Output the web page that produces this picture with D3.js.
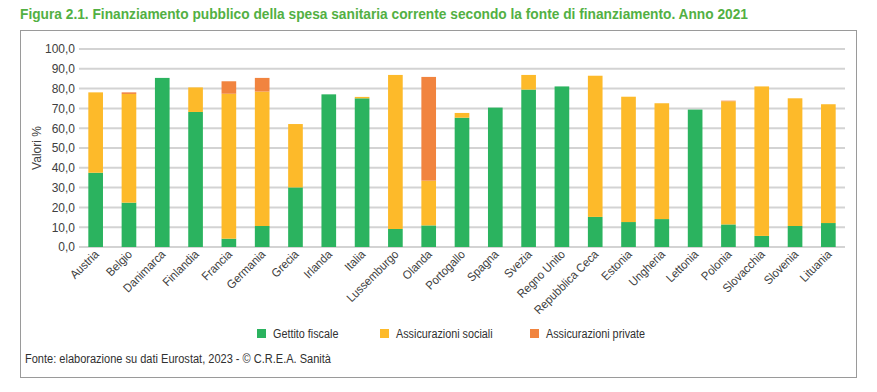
<!DOCTYPE html>
<html><head><meta charset="utf-8">
<script src="https://cdn.jsdelivr.net/npm/d3@7"></script>
<style>body{margin:0;background:#fff}svg{display:block}</style>
</head><body>
<svg id="c" width="877" height="392"></svg>
<script>
const categories = ["Austria","Belgio","Danimarca","Finlandia","Francia","Germania","Grecia","Irlanda","Italia","Lussemburgo","Olanda","Portogallo","Spagna","Svezia","Regno Unito","Repubblica Ceca","Estonia","Ungheria","Lettonia","Polonia","Slovacchia","Slovenia","Lituania"];
const gettitoFiscale = [37.5,22.4,85.4,68.2,4.2,10.6,30.1,77.1,75.1,9.1,10.9,65.3,70.4,79.5,81.1,15.2,12.6,14.1,69.4,11.4,5.6,10.6,12.1];
const assicurazioniSociali = [40.6,54.9,0,12.4,73.2,67.9,32.0,0,0.7,77.8,22.6,2.4,0,7.4,0,71.3,63.3,58.5,0,62.2,75.5,64.5,60.0];
const assicurazioniPrivate = [0,0.8,0,0,6.3,6.9,0,0,0,0,52.4,0,0,0,0,0,0,0,0,0.3,0,0,0];
const seriesNames = ["Gettito fiscale","Assicurazioni sociali","Assicurazioni private"];
const seriesColors = ["#2bb35f","#fdba2a","#f1843f"];
const yTicks = [0,10,20,30,40,50,60,70,80,90,100];
const title = "Figura 2.1. Finanziamento pubblico della spesa sanitaria corrente secondo la fonte di finanziamento. Anno 2021";
const source = "Fonte: elaborazione su dati Eurostat, 2023 - © C.R.E.A. Sanità";

const svg = d3.select("#c");
const reg = "'Liberation Sans',Arial,sans-serif";

function squeeze(sel, ratio){
  sel.each(function(){
    const L = this.getComputedTextLength();
    d3.select(this).attr("textLength", L*ratio).attr("lengthAdjust","spacingAndGlyphs");
  });
}

svg.append("text").attr("x",20).attr("y",19).text(title)
  .attr("font-family",reg).attr("font-weight","bold").attr("font-size",15).attr("fill","#52b043")
  .attr("textLength",728).attr("lengthAdjust","spacingAndGlyphs");

svg.append("rect").attr("x",20.5).attr("y",30.5).attr("width",836).attr("height",347)
  .attr("fill","none").attr("stroke","#9a9a9a").attr("stroke-width",1);

const x = d3.scaleBand().domain(categories).range([79,845]).paddingInner(0.56).paddingOuter(0.28);
const y = d3.scaleLinear().domain([0,100]).range([247,49]);

// gridlines
svg.append("g").selectAll("line").data(yTicks).join("line")
  .attr("x1",79).attr("x2",845).attr("y1",d=>y(d)).attr("y2",d=>y(d))
  .attr("stroke","#d3d3d3").attr("stroke-width",2);

// y axis labels
const fmt = d => d3.format(".1f")(d).replace(".",",");
const yAxis = svg.append("g").attr("transform","translate(79,0)")
  .call(d3.axisLeft(y).tickValues(yTicks).tickFormat(fmt).tickSize(0).tickPadding(4));
yAxis.select(".domain").remove();
yAxis.selectAll("text").attr("font-family",reg).attr("font-size",12).attr("fill","#404040");

svg.append("text").attr("transform","translate(41,148) rotate(-90)").attr("text-anchor","middle")
  .attr("font-family",reg).attr("font-size",12).attr("fill","#404040").text("Valori %");

// stacked bars
const rows = categories.map((c,i)=>({cat:c, s0:gettitoFiscale[i], s1:assicurazioniSociali[i], s2:assicurazioniPrivate[i]}));
const stack = d3.stack().keys(["s0","s1","s2"])(rows);
svg.append("g").selectAll("g").data(stack).join("g").attr("fill",(d,i)=>seriesColors[i])
  .selectAll("rect").data(d=>d).join("rect")
  .attr("x",d=>x(d.data.cat)).attr("width",x.bandwidth())
  .attr("y",d=>y(d[1])).attr("height",d=>Math.max(0,y(d[0])-y(d[1])));

// x labels
const xAxis = svg.append("g").attr("transform","translate(0,247)")
  .call(d3.axisBottom(x).tickSize(0).tickPadding(0));
xAxis.select(".domain").remove();
xAxis.selectAll("text").attr("font-family",reg).attr("font-size",12).attr("fill","#404040")
  .attr("text-anchor","end").attr("dy",0).attr("y",0)
  .attr("transform","translate(4,8) rotate(-45)");
squeeze(xAxis.selectAll("text"), 0.93);

// legend
const lx = [257,380,530];
const lg = svg.append("g").selectAll("g").data(seriesNames).join("g")
  .attr("transform",(d,i)=>`translate(${lx[i]},329)`);
lg.append("rect").attr("width",9).attr("height",9).attr("fill",(d,i)=>seriesColors[i]);
const lt = lg.append("text").attr("x",16).attr("y",8.5).text(d=>d)
  .attr("font-family",reg).attr("font-size",12).attr("fill","#303030");
squeeze(lt, 0.9);

svg.append("text").attr("x",25).attr("y",363).text(source)
  .attr("font-family",reg).attr("font-size",12).attr("fill","#303030")
  .attr("textLength",306).attr("lengthAdjust","spacingAndGlyphs");
</script>
</body></html>
